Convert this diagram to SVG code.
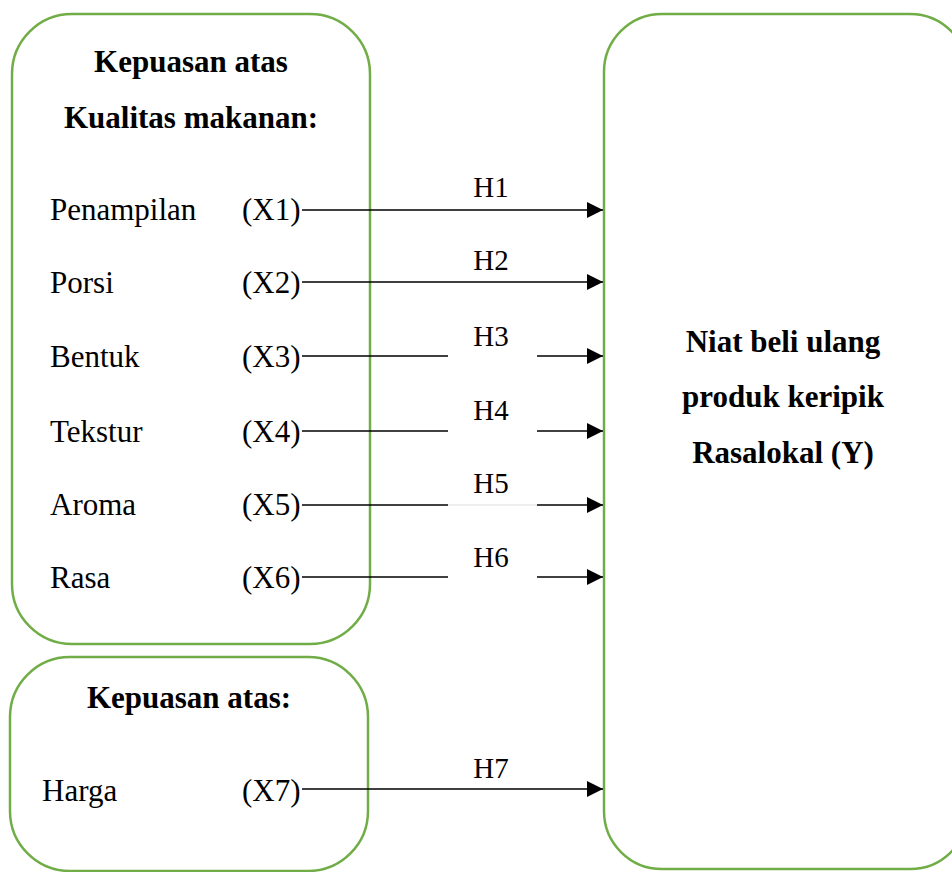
<svg xmlns="http://www.w3.org/2000/svg" width="952" height="872" viewBox="0 0 952 872">
<style>
.box{fill:#fff;stroke:#70AD47;stroke-width:2.5}
.t{font-family:"Liberation Serif","Times New Roman",serif;font-size:31px;fill:#000}
.b{font-weight:bold;text-anchor:middle}
.h{font-size:29px;text-anchor:middle}
.ln{stroke:#000;stroke-width:1.5;fill:none}
</style>
<defs>
<marker id="ah" markerUnits="userSpaceOnUse" markerWidth="16" markerHeight="16" refX="16" refY="8" orient="auto">
<path d="M0,0 L16,8 L0,16 Z" fill="#000"/>
</marker>
</defs>
<rect width="952" height="872" fill="#fff"/>
<g id="node-kualitas">
<rect class="box" x="12" y="14" width="358" height="630" rx="60" ry="60"/>
<text class="t b" x="191" y="72">Kepuasan atas</text>
<text class="t b" x="191" y="128">Kualitas makanan:</text>
<text class="t" x="50" y="220">Penampilan</text>
<text class="t" x="242" y="220">(X1)</text>
<text class="t" x="50" y="293">Porsi</text>
<text class="t" x="242" y="293">(X2)</text>
<text class="t" x="50" y="367">Bentuk</text>
<text class="t" x="242" y="367">(X3)</text>
<text class="t" x="50" y="442">Tekstur</text>
<text class="t" x="242" y="442">(X4)</text>
<text class="t" x="50" y="515">Aroma</text>
<text class="t" x="242" y="515">(X5)</text>
<text class="t" x="50" y="588">Rasa</text>
<text class="t" x="242" y="588">(X6)</text>
</g>
<g id="node-harga">
<rect class="box" x="10" y="657" width="358" height="214" rx="60" ry="60"/>
<text class="t b" x="189" y="708">Kepuasan atas:</text>
<text class="t" x="42" y="801">Harga</text>
<text class="t" x="242" y="801">(X7)</text>
</g>
<g id="node-niat">
<rect class="box" x="604" y="14" width="364" height="855" rx="58" ry="58"/>
<text class="t b" x="783" y="352">Niat beli ulang</text>
<text class="t b" x="783" y="407">produk keripik</text>
<text class="t b" x="783" y="463">Rasalokal (Y)</text>
</g>
<g id="connectors">
<line class="ln" x1="302" y1="210" x2="603" y2="210" marker-end="url(#ah)"/>
<line class="ln" x1="302" y1="282" x2="603" y2="282" marker-end="url(#ah)"/>
<line class="ln" x1="302" y1="356" x2="448" y2="356"/>
<line class="ln" x1="537" y1="356" x2="603" y2="356" marker-end="url(#ah)"/>
<line class="ln" x1="302" y1="431" x2="448" y2="431"/>
<line class="ln" x1="537" y1="431" x2="603" y2="431" marker-end="url(#ah)"/>
<line class="ln" x1="302" y1="505" x2="448" y2="505"/>
<line x1="448" y1="505" x2="537" y2="505" stroke="#dcdcdc" stroke-width="1"/>
<line class="ln" x1="537" y1="505" x2="603" y2="505" marker-end="url(#ah)"/>
<line class="ln" x1="302" y1="577" x2="448" y2="577"/>
<line class="ln" x1="537" y1="577" x2="603" y2="577" marker-end="url(#ah)"/>
<line class="ln" x1="302" y1="789" x2="603" y2="789" marker-end="url(#ah)"/>
<text class="t h" x="491" y="197">H1</text>
<text class="t h" x="491" y="270">H2</text>
<text class="t h" x="491" y="346">H3</text>
<text class="t h" x="491" y="420">H4</text>
<text class="t h" x="491" y="493">H5</text>
<text class="t h" x="491" y="567">H6</text>
<text class="t h" x="491" y="778">H7</text>
</g>
</svg>
